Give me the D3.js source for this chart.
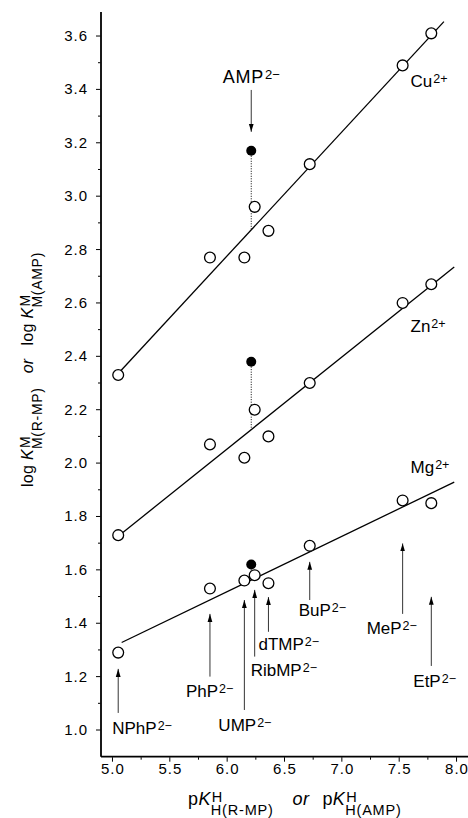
<!DOCTYPE html>
<html>
<head>
<meta charset="utf-8">
<script src="https://cdn.jsdelivr.net/npm/d3@7"></script>
<style>
body { margin: 0; background: #fff; }
svg { font-family: "Liberation Sans", Arial, sans-serif; }
</style>
</head>
<body>
<div id="chart"></div>
<script>
const WIDTH = 468
const HEIGHT = 818

// Phosphate monoester ligands and their acidity constants
const ligands = ['NPhP', 'PhP', 'UMP', 'RibMP', 'dTMP', 'BuP', 'MeP', 'EtP']
const pKa = [5.05, 5.85, 6.15, 6.24, 6.36, 6.72, 7.53, 7.78]

// log stability constants for each metal ion
const metals = ['Cu', 'Zn', 'Mg']
const logKCu = [2.33, 2.77, 2.77, 2.96, 2.87, 3.12, 3.49, 3.61]
const logKZn = [1.73, 2.07, 2.02, 2.20, 2.10, 2.30, 2.60, 2.67]
const logKMg = [1.29, 1.53, 1.56, 1.58, 1.55, 1.69, 1.86, 1.85]

// AMP (filled points)
const ampPKa = 6.21
const ampLogK = [3.17, 2.38, 1.62]

// x range over which each reference line is drawn
const lineFrom = [5.02, 5.02, 5.08]
const lineTo = [7.89, 7.98, 7.98]

const xTicks = [5.0, 5.5, 6.0, 6.5, 7.0, 7.5, 8.0]
const xMinor = [5.25, 5.75, 6.25, 6.75, 7.25, 7.75]
const yTicks = [1.0, 1.2, 1.4, 1.6, 1.8, 2.0, 2.2, 2.4, 2.6, 2.8, 3.0, 3.2, 3.4, 3.6]
const yMinor = [1.1, 1.3, 1.5, 1.7, 1.9, 2.1, 2.3, 2.5, 2.7, 2.9, 3.1, 3.3, 3.5]

// Annotation layout (arrows and ligand labels, in data units of log K)
const arrowTail = [1.064, 1.200, 1.075, 1.275, 1.368, 1.487, 1.435, 1.240]
const arrowHead = [1.229, 1.435, 1.487, 1.525, 1.498, 1.630, 1.699, 1.499]
const labelBase = [0.985, 1.125, 0.996, 1.202, 1.300, 1.427, 1.361, 1.162]
const labelShift = [-6, -24, -26, -4, -10, -11, -36, -18]
const metalLabelBase = [3.409, 2.491, 1.964]

const series = [logKCu, logKZn, logKMg]

const svg = d3.select('#chart')
    .append('svg')
    .attr('width', WIDTH)
    .attr('height', HEIGHT)

const x = d3.scaleLinear().domain([4.9, 8.1]).range([101, 468])
const y = d3.scaleLinear().domain([0.9, 3.69]).range([756.7, 12])

svg.append('defs').append('marker')
    .attr('id', 'head')
    .attr('markerUnits', 'userSpaceOnUse')
    .attr('viewBox', '0 0 8 6')
    .attr('refX', 8).attr('refY', 3)
    .attr('markerWidth', 8).attr('markerHeight', 6)
    .attr('orient', 'auto')
    .append('path')
    .attr('d', 'M0,0.6 L8,3 L0,5.4 Z')
    .style('fill', '#000')

// Text with superscripts / stacked sup+sub
function richText(g, px, py, parts, o) {
    const small = o.small
    const text = g.append('text')
        .attr('x', px).attr('y', py)
        .attr('text-anchor', o.anchor || 'start')
        .style('font-size', o.size + 'px')
        .style('letter-spacing', (o.spacing || 0) + 'px')
    let cur = 0
    const move = v => { const d = v - cur; cur = v; return d }
    parts.forEach(p => {
        if (p.sup !== undefined || p.sub !== undefined) {
            let supLen = 0
            if (p.sup !== undefined) {
                const s = text.append('tspan')
                    .attr('dx', p.dx || 0)
                    .attr('dy', move(-o.rise))
                    .style('font-size', small + 'px')
                    .style('letter-spacing', (o.smallSpacing || 0) + 'px')
                    .text(p.sup)
                supLen = s.node().getComputedTextLength()
            }
            if (p.sub !== undefined) {
                text.append('tspan')
                    .attr('dx', p.sup !== undefined ? -supLen + (p.subDx || 0) : 0)
                    .attr('dy', move(o.drop))
                    .style('font-size', small + 'px')
                    .style('letter-spacing', (o.smallSpacing || 0) + 'px')
                    .text(p.sub)
            }
        } else {
            text.append('tspan')
                .attr('dx', p.dx || 0)
                .attr('dy', move(0))
                .style('font-style', p.italic ? 'italic' : null)
                .text(p.t)
        }
    })
    return text
}

// Axes
const axisG = svg.append('g')
axisG.append('line')
    .attr('x1', x.range()[0]).attr('x2', x.range()[0])
    .attr('y1', y.range()[0]).attr('y2', y.range()[1])
    .style('stroke', '#000').style('stroke-width', 1.8)
axisG.append('line')
    .attr('x1', x.range()[0]).attr('x2', x.range()[1])
    .attr('y1', y.range()[0]).attr('y2', y.range()[0])
    .style('stroke', '#000').style('stroke-width', 1.8)

axisG.selectAll('.ytick')
    .data(yTicks.map(v => ({ v, len: 5 })).concat(yMinor.map(v => ({ v, len: 3 }))))
    .enter().append('line')
    .attr('x1', x.range()[0] - 0.5).attr('x2', d => x.range()[0] - d.len)
    .attr('y1', d => y(d.v)).attr('y2', d => y(d.v))
    .style('stroke', '#000').style('stroke-width', 1)

axisG.selectAll('.xtick')
    .data(xTicks.map(v => ({ v, len: 5 })).concat(xMinor.map(v => ({ v, len: 3 }))))
    .enter().append('line')
    .attr('x1', d => x(d.v)).attr('x2', d => x(d.v))
    .attr('y1', y.range()[0] + 0.5).attr('y2', d => y.range()[0] + d.len)
    .style('stroke', '#000').style('stroke-width', 1)

axisG.selectAll('.ylab')
    .data(yTicks)
    .enter().append('text')
    .attr('x', 88)
    .attr('y', d => y(d) + 5)
    .attr('text-anchor', 'end')
    .style('font-size', '15px')
    .style('letter-spacing', '1px')
    .text(d => d.toFixed(1))

axisG.selectAll('.xlab')
    .data(xTicks)
    .enter().append('text')
    .attr('x', d => x(d) + 0.5)
    .attr('y', 773.5)
    .attr('text-anchor', 'middle')
    .style('font-size', '15px')
    .style('letter-spacing', '1px')
    .text(d => d.toFixed(1))

// Axis titles
const yTitle = svg.append('g').attr('transform', 'translate(33,487) rotate(-90)')
richText(yTitle, 0, 0, [
    { t: 'log ' }, { t: 'K', italic: true }, { sup: 'M', sub: 'M(R-MP)', dx: 1, subDx: -1 },
    { t: 'or', italic: true, dx: 14 },
    { t: 'log ', dx: 13 }, { t: 'K', italic: true }, { sup: 'M', sub: 'M(AMP)', dx: 1, subDx: -1 }
], { size: 16, small: 14, rise: 3, drop: 9, spacing: 0.3, smallSpacing: 0.7 })

richText(svg, 188, 805, [
    { t: 'p' }, { t: 'K', italic: true }, { sup: 'H', sub: 'H(R-MP)', dx: 1, subDx: -1 },
    { t: 'or', italic: true, dx: 19 },
    { t: 'p', dx: 13 }, { t: 'K', italic: true }, { sup: 'H', sub: 'H(AMP)', dx: 1, subDx: -1 }
], { size: 18, small: 14.5, rise: 3.4, drop: 10, spacing: 0.4, smallSpacing: 0.8 })

// Least-squares reference lines
const meanX = d3.mean(pKa)
const fits = series.map(vals => {
    const meanY = d3.mean(vals)
    const sxy = d3.sum(pKa, (px, i) => (px - meanX) * (vals[i] - meanY))
    const sxx = d3.sum(pKa, px => (px - meanX) ** 2)
    const slope = sxy / sxx
    return { slope, intercept: meanY - slope * meanX }
})

const line = d3.line().x(d => x(d[0])).y(d => y(d[1]))
fits.forEach((f, i) => {
    const pts = [lineFrom[i], lineTo[i]].map(v => [v, f.intercept + f.slope * v])
    svg.append('path')
        .attr('d', line(pts))
        .style('fill', 'none')
        .style('stroke', '#000')
        .style('stroke-width', 1.3)
})

// Dotted drop from AMP point to the line
fits.forEach((f, i) => {
    svg.append('line')
        .attr('x1', x(ampPKa)).attr('x2', x(ampPKa))
        .attr('y1', y(ampLogK[i])).attr('y2', y(f.intercept + f.slope * ampPKa))
        .style('stroke', '#000')
        .style('stroke-width', 1)
        .style('stroke-dasharray', '1,1.5')
})

// Open points
series.forEach(vals => {
    svg.append('g').selectAll('circle')
        .data(vals)
        .enter().append('circle')
        .attr('cx', (d, i) => x(pKa[i]))
        .attr('cy', d => y(d))
        .attr('r', 5.4)
        .style('fill', '#fff')
        .style('stroke', '#000')
        .style('stroke-width', 1.3)
})

// AMP points
svg.append('g').selectAll('circle')
    .data(ampLogK)
    .enter().append('circle')
    .attr('cx', x(ampPKa))
    .attr('cy', d => y(d))
    .attr('r', 5)
    .style('fill', '#000')

const labelStyle = { size: 17, small: 12.5, rise: 4, drop: 0 }

// Metal ion labels
metals.forEach((m, i) => {
    richText(svg, 410.5, y(metalLabelBase[i]), [{ t: m }, { sup: '2+', dx: 1 }], labelStyle)
})

// AMP label with arrow
richText(svg, x(ampPKa) - 28.6, y(3.424), [{ t: 'AMP' }, { sup: '2−', dx: 1 }],
    { size: 18, small: 13, rise: 4, drop: 0, spacing: 0.8 })
svg.append('line')
    .attr('x1', x(ampPKa)).attr('x2', x(ampPKa))
    .attr('y1', y(3.398)).attr('y2', y(3.241))
    .style('stroke', '#000').style('stroke-width', 0.8)
    .attr('marker-end', 'url(#head)')

// Ligand labels with arrows
ligands.forEach((name, i) => {
    svg.append('line')
        .attr('x1', x(pKa[i])).attr('x2', x(pKa[i]))
        .attr('y1', y(arrowTail[i])).attr('y2', y(arrowHead[i]))
        .style('stroke', '#000').style('stroke-width', 0.8)
        .attr('marker-end', 'url(#head)')
    richText(svg, x(pKa[i]) + labelShift[i], y(labelBase[i]), [{ t: name }, { sup: '2−', dx: 1 }], labelStyle)
})
</script>
</body>
</html>
